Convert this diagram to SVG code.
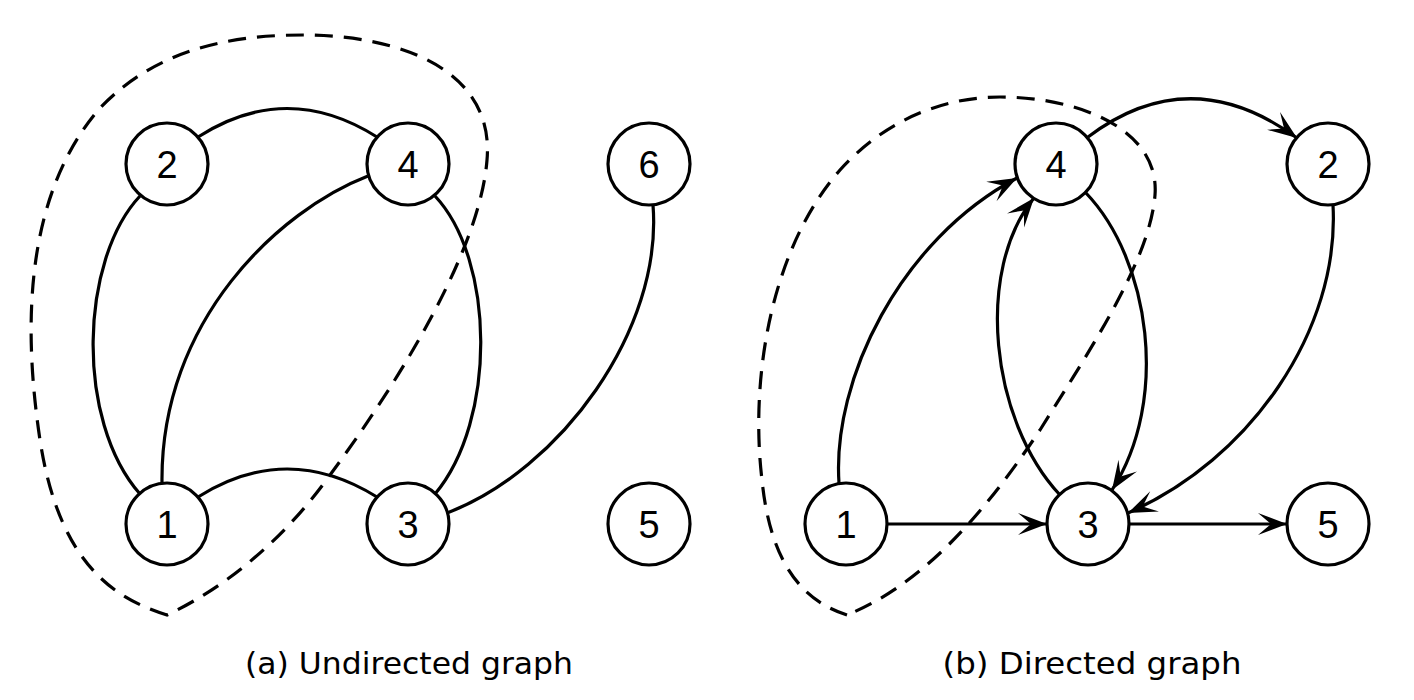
<svg xmlns="http://www.w3.org/2000/svg" width="1414" height="700" viewBox="0 0 1414 700">
<style>
.node circle{fill:#fff;stroke:#000;stroke-width:3.2}
.node text{font-family:"Liberation Sans",Arial,sans-serif;font-size:38px;text-anchor:middle;fill:#000}
.edge{fill:none;stroke:#000;stroke-width:3.2}
.arr{marker-end:url(#ah)}
.hull{fill:none;stroke:#000;stroke-width:3.2;stroke-dasharray:18 11}
.cap{font-family:"DejaVu Sans","Liberation Sans",sans-serif;font-size:30px;fill:#000;text-anchor:middle}
</style>
<defs>
<marker id="ah" markerUnits="userSpaceOnUse" orient="auto" viewBox="-31 -12 33 24" refX="0" refY="0" markerWidth="33" markerHeight="24">
<path d="M0,0 L-29,-11 L-16,0 L-29,11 Z" fill="#000"/>
</marker>
</defs>
<rect width="1414" height="700" fill="#fff"/>
<g id="connectors">
<path class="edge" d="M198,137 Q287,80 377,137"/>
<path class="edge" d="M198,497 Q287,441 377,497"/>
<path class="edge" d="M140,196 C80,260 75,420 140,494"/>
<path class="edge" d="M368,176 C280,210 160,320 162,483"/>
<path class="edge" d="M435,196 C495,260 497,420 435,494"/>
<path class="edge" d="M653,205 C663,330 560,470 447,513"/>
<path class="edge arr" d="M839,483 C832,380 900,240 1017,178"/>
<path class="edge arr" d="M1060,495 C990,420 975,270 1034,198"/>
<path class="edge arr" d="M1086,193 C1150,260 1170,400 1112,490"/>
<path class="edge arr" d="M1088,137 Q1190,60 1297,138"/>
<path class="edge arr" d="M1333,205 C1340,330 1250,460 1128,513"/>
<path class="edge arr" d="M887,524 L1047,524"/>
<path class="edge arr" d="M1129,524 L1287,524"/>
</g>
<g id="hull-a"><path class="hull" d="M167,615 C120,600 60,570 40,440 C25,340 20,200 100,108 C160,45 240,35 303,35 C400,35 495,70 487,160 C480,250 400,380 330,475 C280,545 220,590 167,615 Z"/></g>
<g id="hull-b"><path class="hull" d="M847,615 C800,600 770,560 762,480 C750,380 770,250 840,170 C890,115 950,97 1000,97 C1080,97 1160,130 1155,195 C1150,260 1090,350 1040,430 C980,520 920,585 847,615 Z"/></g>
<g id="a-n2" class="node"><circle cx="167" cy="164" r="41"/><text x="167" y="178">2</text></g>
<g id="a-n4" class="node"><circle cx="408" cy="164" r="41"/><text x="408" y="178">4</text></g>
<g id="a-n6" class="node"><circle cx="649" cy="164" r="41"/><text x="649" y="178">6</text></g>
<g id="a-n1" class="node"><circle cx="167" cy="524" r="41"/><text x="167" y="538">1</text></g>
<g id="a-n3" class="node"><circle cx="408" cy="524" r="41"/><text x="408" y="538">3</text></g>
<g id="a-n5" class="node"><circle cx="649" cy="524" r="41"/><text x="649" y="538">5</text></g>
<g id="b-n4" class="node"><circle cx="1056" cy="164" r="41"/><text x="1056" y="178">4</text></g>
<g id="b-n2" class="node"><circle cx="1328" cy="164" r="41"/><text x="1328" y="178">2</text></g>
<g id="b-n1" class="node"><circle cx="846" cy="524" r="41"/><text x="846" y="538">1</text></g>
<g id="b-n3" class="node"><circle cx="1088" cy="524" r="41"/><text x="1088" y="538">3</text></g>
<g id="b-n5" class="node"><circle cx="1328" cy="524" r="41"/><text x="1328" y="538">5</text></g>
<g id="captions">
<text class="cap" x="409" y="674" textLength="328" lengthAdjust="spacingAndGlyphs">(a) Undirected graph</text>
<text class="cap" x="1092" y="674" textLength="299" lengthAdjust="spacingAndGlyphs">(b) Directed graph</text>
</g>
</svg>
